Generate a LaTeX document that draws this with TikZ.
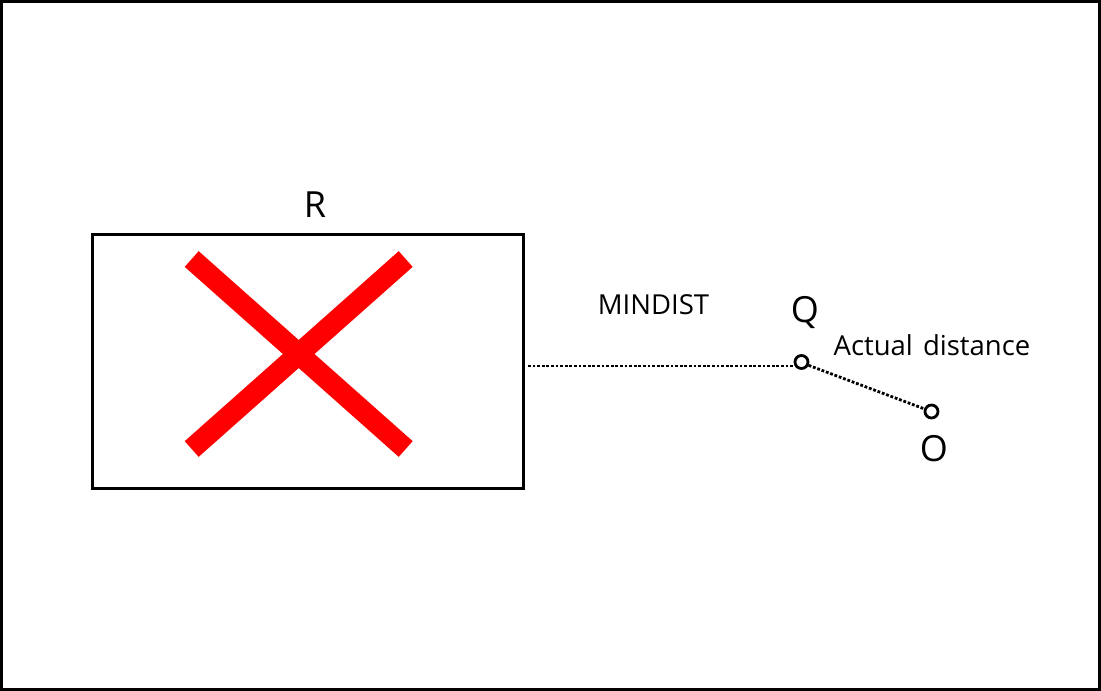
\documentclass[tikz,border=0pt]{standalone}
\usepackage{fontspec}
\setmainfont{Open Sans}
\begin{document}
\begin{tikzpicture}[x=1pt,y=-1pt,
  frame/.style={draw=black,line width=3pt},
  boxR/.style={draw=black,line width=3pt,minimum width=431pt,minimum height=254pt,inner sep=0pt},
  crossline/.style={draw=red,line width=21pt,line cap=butt},
  pointnode/.style={circle,draw=black,line width=2.8pt,minimum size=13pt,inner sep=0pt},
  dotline/.style={draw=black,line width=2.8pt,dash pattern=on 2.8pt off 1.8pt},
  biglabel/.style={anchor=base,inner sep=0pt,font=\fontsize{36}{42}\selectfont},
  smalllabel/.style={anchor=base,inner sep=0pt,font=\fontsize{27.5}{32}\selectfont}]
\useasboundingbox (0,0) rectangle (1101,691);
\draw[frame] (1.5,1.5) rectangle (1099.5,689.5);
\node[boxR] (rbox) at (307.5,361) {};
\draw[crossline] (191.7,259) -- (405.7,449);
\draw[crossline] (191.7,449) -- (405.7,259);
\node[biglabel] (lR) at (315,217) {R};
\node[pointnode] (Q) at (801.5,362) {};
\node[pointnode] (O) at (931.5,411.5) {};
\coordinate (m1) at (528,366);
\coordinate (m2) at (795,366);
\draw[dotline] (m1) -- (m2);
\draw[dotline] (Q.-25) -- (O.160);
\node[smalllabel] (lMIN) at (653.5,314) {MINDIST};
\node[biglabel] (lQ) at (805,322) {Q};
\node[smalllabel] (lAct) at (932,355) {Actual\hspace{3pt} distance};
\node[biglabel] (lO) at (934,461) {O};
\end{tikzpicture}
\end{document}
